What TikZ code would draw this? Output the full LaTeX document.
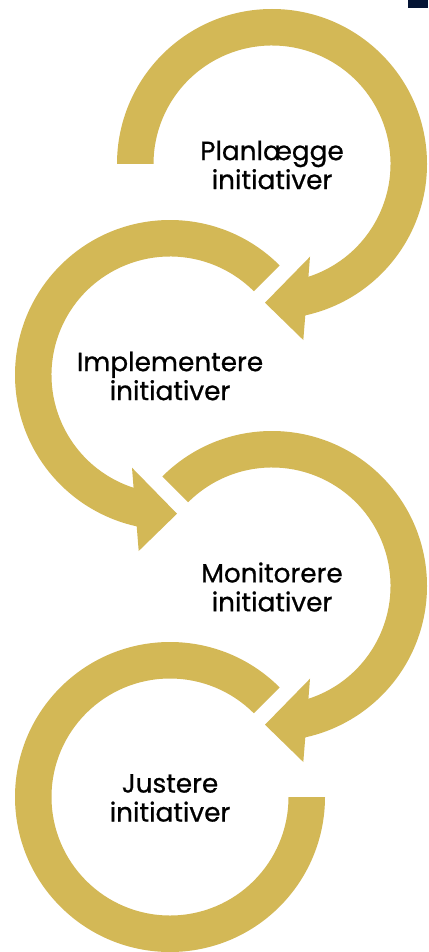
\documentclass[tikz,border=0pt]{standalone}
\usepackage{fontspec}
\setmainfont{Poppins}[FakeBold=0.7]
\definecolor{gold}{RGB}{211,184,86}
\definecolor{navy}{RGB}{4,20,52}
\newcommand\goldarc[1]{%
  \fill[gold] (#1:155) arc[start angle=#1, end angle=-77.6, radius=155]
    -- (31.3,-176) -- (-7,-138.7) -- (38,-92.7)
    -- (-72.1:118.5) arc[start angle=-72.1, end angle=#1, radius=118.5] -- cycle;}
\tikzset{lbl/.style={align=center, text=black, inner sep=0pt,
  font=\fontsize{26.3}{29}\selectfont}}
\begin{document}
\begin{tikzpicture}[x=1pt,y=1pt]
\useasboundingbox (0,0) rectangle (428,-952);
\fill[white] (0,0) rectangle (428,-952);
\coordinate (c1) at (272,-164);
\coordinate (c2) at (170,-375);
\coordinate (c3) at (272,-586);
\coordinate (c4) at (170,-797);
\fill[navy] (407.7,0) rectangle (428,-8.3);
\begin{scope}[shift={(c1)}]\goldarc{180}\end{scope}
\begin{scope}[shift={(c2)},xscale=-1]\goldarc{135}\end{scope}
\begin{scope}[shift={(c3)}]\goldarc{135}\end{scope}
\begin{scope}[shift={(c4)}]
  \fill[gold] (45:155) arc[start angle=45, end angle=360, radius=155]
    -- (0:118.5) arc[start angle=360, end angle=45, radius=118.5] -- cycle;
\end{scope}
\node[lbl] (t1) at ([yshift=-1pt]c1) {Planlægge\\initiativer};
\node[lbl] (t2) at ([yshift=-1pt]c2) {Implementere\\initiativer};
\node[lbl] (t3) at ([yshift=-1pt]c3) {Monitorere\\initiativer};
\node[lbl] (t4) at ([yshift=-1pt]c4) {Justere\\initiativer};
\end{tikzpicture}
\end{document}
